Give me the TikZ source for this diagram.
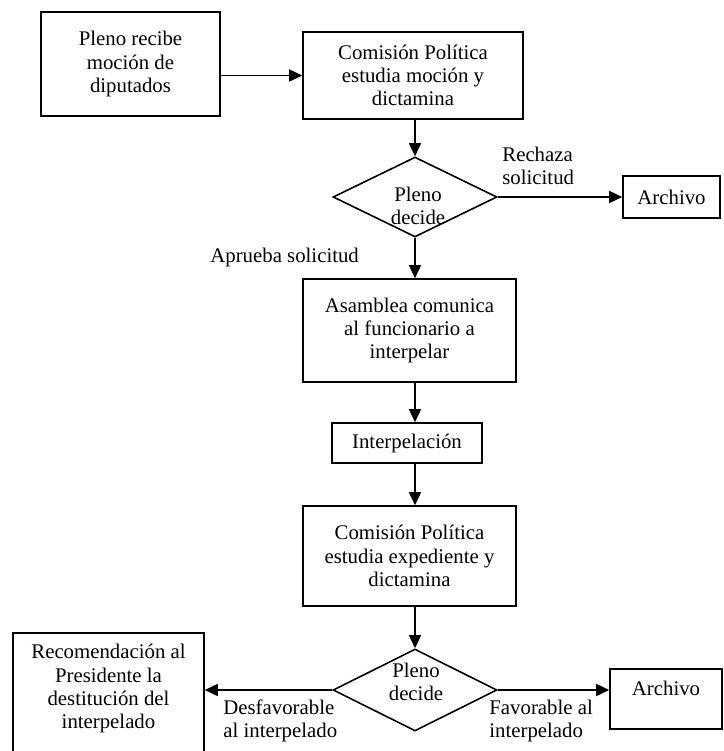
\documentclass[tikz,border=0pt]{standalone}
\usepackage{fontspec}
\setmainfont{Liberation Serif}
\usetikzlibrary{arrows.meta,shapes.geometric}

\begin{document}
\begin{tikzpicture}[x=0.5pt,y=-0.5pt,
    font=\fontsize{10.4}{11.6}\selectfont,
    box/.style={draw,line width=0.8pt,align=center,inner sep=0pt},
    decision/.style={draw,line width=0.8pt,diamond,inner sep=0pt,aspect=2},
    lbl/.style={align=center,inner sep=0pt},
    arr/.style={line width=0.8pt,-{Triangle[length=6.5pt,width=6pt]}}]
    \useasboundingbox (0,0) rectangle (724,751);

    \node[box,minimum width=89.5pt,minimum height=52pt] (moc) at (130.5,64) {Pleno recibe\\moción de\\diputados};
    \node[box,minimum width=110pt,minimum height=43.5pt] (com1) at (413,75.5) {Comisión Política\\estudia moción y\\dictamina};
    \node[decision,minimum width=82pt,minimum height=40pt] (dec1) at (415,197) {};
    \node[lbl] (dec1t) at (418,206) {Pleno\\decide};
    \node[box,minimum width=48.5pt,minimum height=21pt] (arch1) at (671.5,197) {Archivo};
    \node[box,minimum width=106.5pt,minimum height=51.5pt] (asam) at (409.5,330.5) {Asamblea comunica\\al funcionario a\\interpelar};
    \node[box,minimum width=75pt,minimum height=20pt] (interp) at (407,443) {Interpelación};
    \node[box,minimum width=106.5pt,minimum height=50pt] (com2) at (409.5,556) {Comisión Política\\estudia expediente y\\dictamina};
    \node[decision,minimum width=82pt,minimum height=41pt] (dec2) at (415,690) {};
    \node[lbl] (dec2t) at (416,682) {Pleno\\decide};
    \node[box,minimum width=56pt,minimum height=30pt,text depth=11pt] (arch2) at (666,699) {Archivo};
    \node[box,minimum width=95.5pt,minimum height=64pt,text depth=10.5pt] (reco) at (108.5,697) {Recomendación al\\Presidente la\\destitución del\\interpelado};

    % etiquetas de las salidas
    \node[lbl,anchor=west,align=left] (rech) at (502,166) {Rechaza\\solicitud};
    \node[lbl,anchor=west] (apru) at (210,257) {Aprueba solicitud};
    \node[lbl,anchor=west,align=left] (desf) at (223,721) {Desfavorable\\al interpelado};
    \node[lbl,anchor=west,align=left] (fav) at (489,721) {Favorable al\\interpelado};

    \draw[arr] (moc.east |- com1.west) -- (com1.west);
    \draw[arr] (dec1.north |- com1.south) -- (dec1.north);
    \draw[arr] (dec1.east) -- (arch1.west);
    \draw[arr] (dec1.south) -- (dec1.south |- asam.north);
    \draw[arr] (dec1.south |- asam.south) -- (dec1.south |- interp.north);
    \draw[arr] (dec1.south |- interp.south) -- (dec1.south |- com2.north);
    \draw[arr] (dec2.north |- com2.south) -- (dec2.north);
    \draw[arr] (dec2.east) -- (arch2.west |- dec2.east);
    \draw[arr] (dec2.west) -- (reco.east |- dec2.west);
\end{tikzpicture}
\end{document}
